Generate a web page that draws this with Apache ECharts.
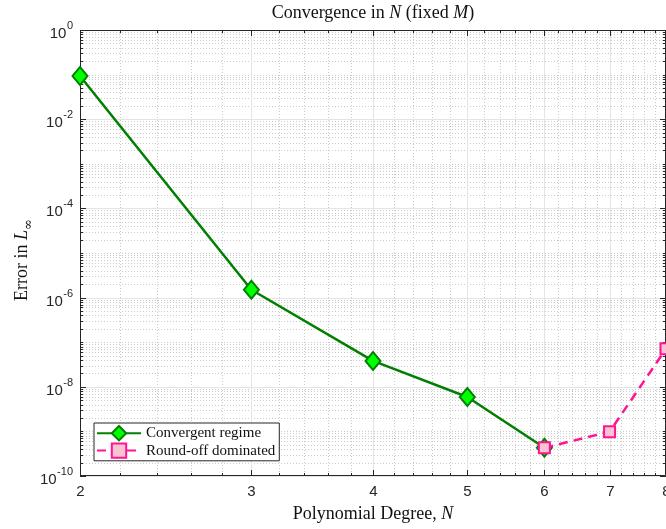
<!DOCTYPE html>
<html>
<head>
<meta charset="utf-8">
<script src="https://cdn.jsdelivr.net/npm/echarts@6/dist/echarts.min.js"></script>
<style>html,body{margin:0;padding:0;background:#fff;}#c{width:666px;height:529px;}</style>
</head>
<body>
<div id="c"></div>
<script>
// ---- data ----
const convN = [2, 3, 4, 5, 6];
const convErr = [0.093, 1.5e-6, 3.8e-8, 5.9e-9, 4.3e-10];
const roundN = [6, 7, 8];
const roundErr = [4.3e-10, 9.8e-10, 7.1e-8];
const xTickLabels = [2, 3, 4, 5, 6, 7, 8];
const yTickExps = [0, -2, -4, -6, -8, -10];
const titleParts = ['Convergence in ', 'N', ' (fixed ', 'M', ')'];

const SANS = 'Liberation Sans';
const SERIF = 'Liberation Serif';

const chart = echarts.init(document.getElementById('c'), null, {renderer: 'canvas'});

const mctx = document.createElement('canvas').getContext('2d');
function tw(txt, size) { mctx.font = size + 'px "' + SANS + '"'; return mctx.measureText(txt).width; }

// minor tick values
const xMinor = [];
for (let a = 20; a < 80; a += 2) { if (a % 10 !== 0) xMinor.push(a / 10); }
const yMinor = [];
for (let k = -10; k < 0; k++) {
  for (let m = 2; m <= 9; m++) yMinor.push(m * Math.pow(10, k));
  if (k % 2 !== 0) yMinor.push(Math.pow(10, k));
}

function renderAxes(params, api) {
  const cs = params.coordSys;
  const L = cs.x, T = cs.y, R = cs.x + cs.width, B = cs.y + cs.height;
  const ch = [];
  const ln = (x1, y1, x2, y2, st) => ch.push({type: 'line', shape: {x1, y1, x2, y2}, style: st, silent: true});
  const minorSt = {stroke: '#cbcbcb', lineWidth: 1, lineDash: [1, 2]};
  const majorSt = {stroke: '#e4e4e4', lineWidth: 1};
  const tickSt = {stroke: '#262626', lineWidth: 1};
  xMinor.forEach(v => {
    const x = Math.round(api.coord([v, 1e-5])[0]) + 0.5;
    ln(x, T, x, B, minorSt);
  });
  yMinor.forEach(v => {
    const y = Math.round(api.coord([3, v])[1]) + 0.5;
    ln(L, y, R, y, minorSt);
  });
  xTickLabels.forEach(v => {
    const x = Math.round(api.coord([v, 1e-5])[0]) + 0.5;
    ln(x, T, x, B, majorSt);
  });
  yTickExps.forEach(e => {
    const y = Math.round(api.coord([3, Math.pow(10, e)])[1]) + 0.5;
    ln(L, y, R, y, majorSt);
  });
  // ticks
  xMinor.forEach(v => {
    const x = Math.round(api.coord([v, 1e-5])[0]) + 0.5;
    ln(x, B, x, B - 3, tickSt); ln(x, T, x, T + 3, tickSt);
  });
  xTickLabels.forEach(v => {
    const x = Math.round(api.coord([v, 1e-5])[0]) + 0.5;
    ln(x, B, x, B - 6, tickSt); ln(x, T, x, T + 6, tickSt);
    ch.push({type: 'text', silent: true, style: {text: String(v), x: x, y: B + 16, align: 'center', verticalAlign: 'middle', fill: '#262626', font: '15px "' + SANS + '"'}});
  });
  yMinor.forEach(v => {
    const y = Math.round(api.coord([3, v])[1]) + 0.5;
    ln(L, y, L + 3, y, tickSt); ln(R, y, R - 3, y, tickSt);
  });
  yTickExps.forEach(e => {
    const y = Math.round(api.coord([3, Math.pow(10, e)])[1]) + 0.5;
    ln(L, y, L + 6, y, tickSt); ln(R, y, R - 6, y, tickSt);
    const exp = String(e);
    const right = L - 7;
    const ew = tw(exp, 11);
    ch.push({type: 'text', silent: true, style: {text: exp, x: right, y: y - 5, align: 'right', verticalAlign: 'middle', fill: '#262626', font: '11px "' + SANS + '"'}});
    ch.push({type: 'text', silent: true, style: {text: '10', x: right - ew - 0.5, y: y + 3, align: 'right', verticalAlign: 'middle', fill: '#262626', font: '15px "' + SANS + '"'}});
  });
  // frame
  ch.push({type: 'rect', silent: true, shape: {x: L + 0.5, y: T + 0.5, width: cs.width - 1, height: cs.height - 1}, style: {fill: null, stroke: '#262626', lineWidth: 1}});
  return {type: 'group', children: ch};
}

const option = {
  backgroundColor: '#fff',
  animation: false,
  grid: {left: 80, top: 30, right: 0, bottom: 53},
  xAxis: {type: 'log', logBase: 10, min: 2, max: 8,
    axisLine: {show: false}, axisTick: {show: false}, axisLabel: {show: false}, splitLine: {show: false}, minorSplitLine: {show: false}},
  yAxis: {type: 'log', logBase: 10, min: 1e-10, max: 1,
    axisLine: {show: false}, axisTick: {show: false}, axisLabel: {show: false}, splitLine: {show: false}, minorSplitLine: {show: false}},
  legend: {
    data: ['Convergent regime', 'Round-off dominated'],
    orient: 'vertical', left: 94, top: 423,
    itemWidth: 44, itemHeight: 18, itemGap: 1,
    padding: [2, 4, 2, 2],
    backgroundColor: '#fff', borderColor: '#262626', borderWidth: 1, borderRadius: 0,
    textStyle: {fontFamily: SERIF, fontSize: 15, color: '#111'},
    selectedMode: false
  },
  graphic: [
    {type: 'text', silent: true, style: {
      text: titleParts[0] + '{i|' + titleParts[1] + '}' + titleParts[2] + '{i|' + titleParts[3] + '}' + titleParts[4],
      x: 373, y: 13, align: 'center', verticalAlign: 'middle', fill: '#111',
      font: '18px "' + SERIF + '"', rich: {i: {fontStyle: 'italic', fontFamily: SERIF, fontSize: 18}}}},
    {type: 'text', silent: true, style: {
      text: 'Polynomial Degree, {i|N}', x: 373, y: 514, align: 'center', verticalAlign: 'middle', fill: '#111',
      font: '18px "' + SERIF + '"', rich: {i: {fontStyle: 'italic', fontFamily: SERIF, fontSize: 18}}}},
    {type: 'text', silent: true, x: 22, y: 260, rotation: Math.PI / 2, style: {
      text: '{n|Error in }{i|L}{s|∞}', x: 0, y: 0, align: 'center', verticalAlign: 'middle', fill: '#111',
      rich: {n: {fontFamily: SERIF, fontSize: 18, lineHeight: 26, verticalAlign: 'middle'},
             i: {fontFamily: SERIF, fontSize: 18, fontStyle: 'italic', lineHeight: 26, verticalAlign: 'middle'},
             s: {fontFamily: 'DejaVu Serif', fontSize: 13, lineHeight: 26, verticalAlign: 'bottom'}}}}
  ],
  series: [
    {type: 'custom', name: 'axes', coordinateSystem: 'cartesian2d', data: [[3, 1e-5]], renderItem: renderAxes, z: 0, silent: true, clip: false},
    {type: 'line', name: 'Convergent regime', data: convN.map((n, i) => [n, convErr[i]]), z: 3,
      lineStyle: {color: '#007f00', width: 2.5}, symbol: 'diamond', symbolSize: [15, 18], showAllSymbol: true,
      itemStyle: {color: '#00ff00', borderColor: '#007f00', borderWidth: 2}, clip: false},
    {type: 'line', name: 'Round-off dominated', data: roundN.map((n, i) => [n, roundErr[i]]), z: 4,
      lineStyle: {color: '#ff1493', width: 2.5, type: [9, 6]}, symbol: 'rect', symbolSize: 11, showAllSymbol: true,
      itemStyle: {color: '#f9c4d2', borderColor: '#ff1493', borderWidth: 2}, clip: false}
  ]
};
chart.setOption(option);
</script>
</body>
</html>
